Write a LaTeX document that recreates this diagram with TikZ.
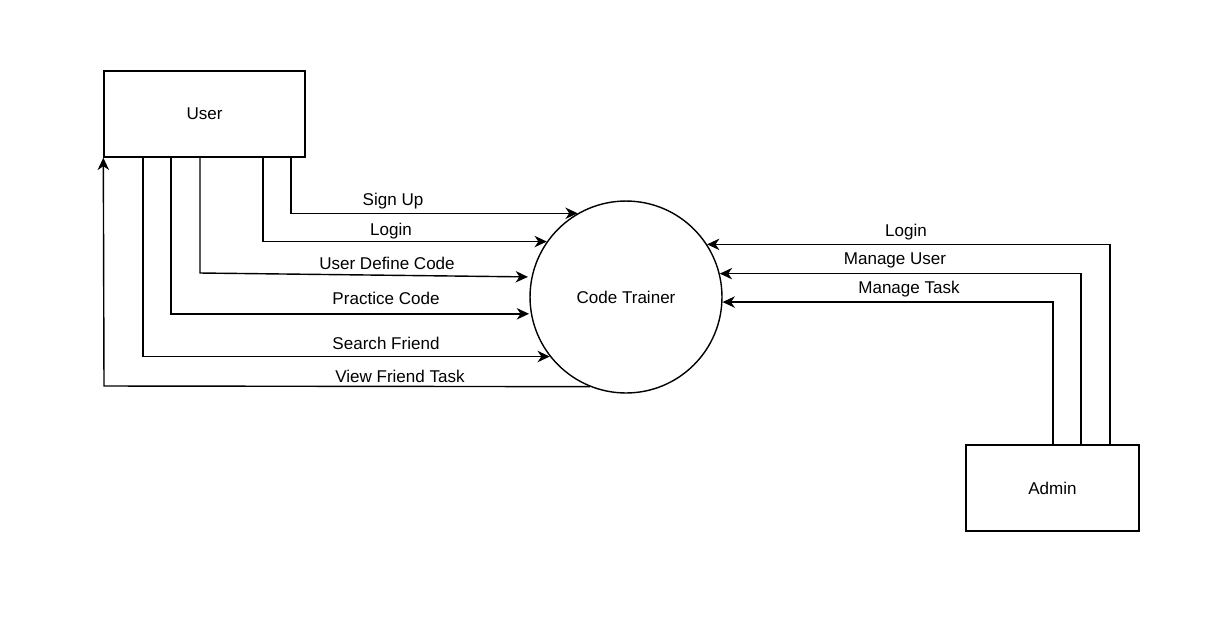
\documentclass[tikz,border=0pt]{standalone}
\usepackage{fontspec}
\setmainfont{Liberation Sans}
\usetikzlibrary{arrows.meta}
\begin{document}
\begin{tikzpicture}[x=0.02cm,y=-0.02cm,
  box/.style={draw,line width=0.8pt,minimum width=#1,minimum height=1.72cm,inner sep=0pt},
  proc/.style={draw,circle,line width=0.8pt,minimum size=3.84cm,inner sep=0pt},
  lbl/.style={font=\fontsize{9.7pt}{11pt}\selectfont,inner sep=0pt},
  flow/.style={line width=0.8pt,-{Stealth[length=7pt,width=6.5pt,inset=2.2pt]}},
  txt/.style={font=\fontsize{9.7pt}{11pt}\selectfont}]
\useasboundingbox[fill=white] (0,0) rectangle (1226,627);
\node[box=4.02cm,txt] (user) at (204.5,114) {User};
\node[box=3.46cm,txt] (admin) at (1052.5,488) {Admin};
\node[proc,txt] (ct) at (626,297) {Code Trainer};
% left flows
\coordinate (s1) at (291,157);
\coordinate (s2) at (263,157);
\coordinate (s3) at (200,157);
\coordinate (s4) at (171,157);
\coordinate (s5) at (143,157);
\coordinate (c3) at (200,273);
\coordinate (c6) at (104,386);
\draw[flow] (s1) |- (ct.120);
\draw[flow] (s2) |- (ct.145.8);
\draw[flow] (s3) -- (c3) -- ([xshift=-2]ct.168);
\draw[flow] (s4) |- ([xshift=-1]ct.190.2);
\draw[flow] (s5) |- (ct.218.7);
\draw[flow] (ct.248) -- (c6) -- (user.south west);
\node[lbl] (l1) at (393,201) {Sign Up};
\node[lbl] (l2) at (391,231) {Login};
\node[lbl] (l3) at (387,263) {User Define Code};
\node[lbl] (l4) at (386,298) {Practice Code};
\node[lbl] (l5) at (386,343) {Search Friend};
\node[lbl] (l6) at (400,376) {View Friend Task};
% right flows
\coordinate (a1) at (1110,445);
\coordinate (a2) at (1081,445);
\coordinate (a3) at (1053,445);
\draw[flow] (a1) |- (ct.33.5);
\draw[flow] (a2) |- (ct.14.5);
\draw[flow] (a3) |- (ct.-3);
\node[lbl] (r1) at (906,232) {Login};
\node[lbl] (r2) at (895,260) {Manage User};
\node[lbl] (r3) at (909,289) {Manage Task};
\end{tikzpicture}
\end{document}
